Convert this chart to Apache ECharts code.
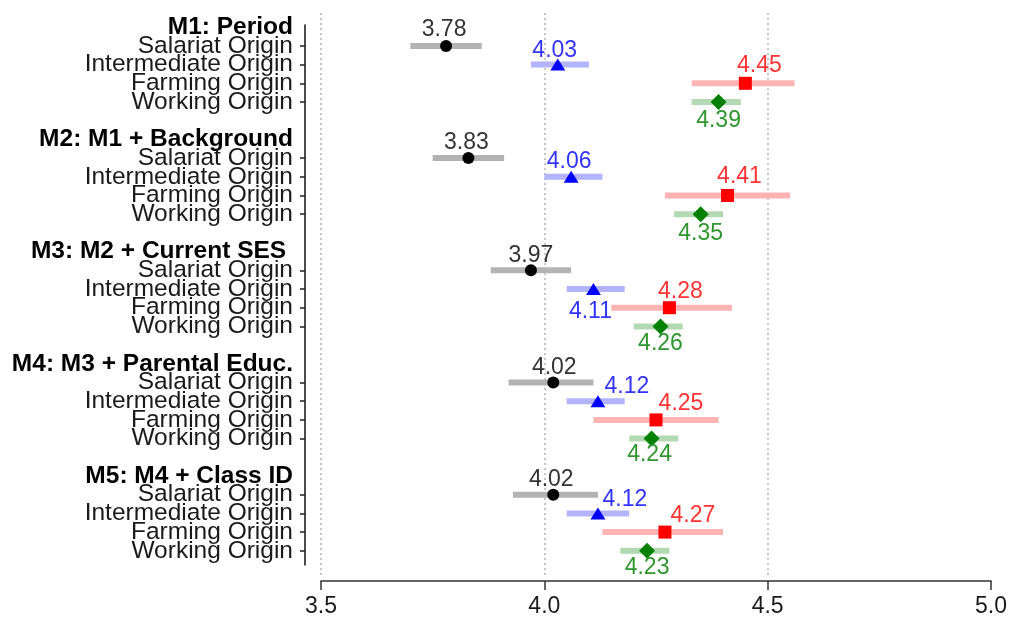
<!DOCTYPE html>
<html>
<head>
<meta charset="utf-8">
<script src="https://cdn.jsdelivr.net/npm/echarts@6/dist/echarts.min.js"></script>
<style>
  html, body { margin: 0; padding: 0; background: #fff; }
  #chart { width: 1010px; height: 619px; }
</style>
</head>
<body>
<div id="chart"></div>
<script>
// Model blocks (headers) and origin classes (rows inside each block)
const models = ['M1: Period', 'M2: M1 + Background', 'M3: M2 + Current SES ', 'M4: M3 + Parental Educ.', 'M5: M4 + Class ID'];
const origins = ['Salariat Origin', 'Intermediate Origin', 'Farming Origin', 'Working Origin'];

// Point estimates per model (M1..M5)
const salariatEst     = [3.78, 3.83, 3.97, 4.02, 4.02];
const intermediateEst = [4.03, 4.06, 4.11, 4.12, 4.12];
const farmingEst      = [4.45, 4.41, 4.28, 4.25, 4.27];
const workingEst      = [4.39, 4.35, 4.26, 4.24, 4.23];

// Interval bounds per model (M1..M5)
const salariatLow      = [3.70, 3.75, 3.88, 3.92, 3.93];
const salariatHigh     = [3.86, 3.91, 4.06, 4.11, 4.12];
const intermediateLow  = [3.97, 4.00, 4.05, 4.05, 4.05];
const intermediateHigh = [4.10, 4.13, 4.18, 4.18, 4.19];
const farmingLow       = [4.33, 4.27, 4.15, 4.11, 4.13];
const farmingHigh      = [4.56, 4.55, 4.42, 4.39, 4.40];
const workingLow       = [4.33, 4.29, 4.20, 4.19, 4.17];
const workingHigh      = [4.44, 4.40, 4.31, 4.30, 4.28];

// x-axis ticks
const xTicks = [3.5, 4.0, 4.5, 5.0];

// ---- layout / styling (kept apart from the data) ----
const FONT = '"Liberation Sans", Arial, sans-serif';
const ROWS_PER_BLOCK = 6;           // header + 4 origins + spacer
const headerRow = g => g * ROWS_PER_BLOCK;
const originRow = (g, k) => g * ROWS_PER_BLOCK + 1 + k;

const originStyle = [
  { est: salariatEst,     low: salariatLow,     high: salariatHigh,     symbol: 'circle',   size: 12,       mark: '#000000', bar: '#b3b3b3', text: '#333333' },
  { est: intermediateEst, low: intermediateLow, high: intermediateHigh, symbol: 'triangle', size: [15, 12], mark: '#0000ff', bar: '#b3b3ff', text: '#3333ff' },
  { est: farmingEst,      low: farmingLow,      high: farmingHigh,      symbol: 'rect',     size: 13,       mark: '#ff0000', bar: '#ffb3b3', text: '#ff3333' },
  { est: workingEst,      low: workingLow,      high: workingHigh,      symbol: 'diamond',  size: 16,       mark: '#008000', bar: '#b3d9b3', text: '#2f962f' }
];

// value-label nudges [dx, dy] per model (rows) and origin (columns)
const labelNudge = [
  [[-2, -16], [-3, -14], [14, -18], [0, 19]],
  [[-2, -15], [-2, -15], [12, -19], [0, 19]],
  [[0, -15],  [-3, 23],  [11, -16], [0, 17]],
  [[1, -15],  [29, -15], [25, -16], [-2, 16]],
  [[-2, -15], [27, -14], [28, -16], [0, 17]]
];

// row labels
const rowText = {};
const headerRows = [];
const originRows = [];
models.forEach((m, g) => {
  rowText[headerRow(g)] = m;
  headerRows.push(headerRow(g));
  origins.forEach((o, k) => {
    rowText[originRow(g, k)] = o;
    originRows.push(originRow(g, k));
  });
});
const labelRows = headerRows.concat(originRows).sort((a, b) => a - b);
// the labels overlap their neighbours, so even and odd rows go on two stacked axes
const evenRows = labelRows.filter(r => r % 2 === 0);
const oddRows = labelRows.filter(r => r % 2 === 1);

// row scale: first row centre 14.2px below grid top, 18.7px per row
const rowPx = 18.7;
const yMin = -14.2 / rowPx;
const yMax = yMin + 562 / rowPx;

const series = [];
originStyle.forEach((s, k) => {
  const bars = models.map((m, g) => [s.low[g], s.high[g], originRow(g, k)]);
  series.push({
    type: 'custom',
    name: origins[k] + ' interval',
    xAxisIndex: 0, yAxisIndex: 0,
    z: 2,
    silent: true,
    encode: { x: [0, 1], y: 2 },
    data: bars,
    renderItem: (params, api) => {
      const row = api.value(2);
      const a = api.coord([api.value(0), row]);
      const b = api.coord([api.value(1), row]);
      return {
        type: 'line',
        shape: { x1: a[0], y1: a[1], x2: b[0], y2: b[1] },
        style: { stroke: s.bar, lineWidth: 6, lineCap: 'butt' }
      };
    }
  });
  series.push({
    type: 'scatter',
    name: origins[k],
    xAxisIndex: 0, yAxisIndex: 0,
    z: 4,
    symbol: s.symbol,
    symbolSize: s.size,
    itemStyle: { color: s.mark, opacity: 1 },
    label: {
      show: true,
      position: 'inside',
      fontFamily: FONT,
      fontSize: 23,
      color: s.text,
      formatter: p => p.value[0].toFixed(2)
    },
    data: models.map((m, g) => ({
      value: [s.est[g], originRow(g, k)],
      label: { offset: labelNudge[g][k] }
    }))
  });
});

function rowAxis(rows, withTicks) {
  return {
    gridIndex: 0,
    type: 'value',
    position: 'left',
    inverse: true,
    min: yMin, max: yMax,
    offset: 16,
    axisLine: { show: false, onZero: false },
    axisTick: withTicks
      ? { show: true, length: 5, customValues: originRows, lineStyle: { color: '#222', width: 1.5 } }
      : { show: false },
    axisLabel: {
      show: true,
      margin: 12,
      customValues: rows,
      showMinLabel: true, showMaxLabel: true,
      fontFamily: FONT, fontSize: 24.5, color: '#1a1a1a',
      formatter: v => {
        const r = Math.round(v);
        const t = rowText[r] || '';
        return headerRows.indexOf(r) >= 0 ? '{h|' + t + '}' : t;
      },
      rich: { h: { fontFamily: FONT, fontSize: 24.5, fontWeight: 'bold', color: '#000' } }
    },
    splitLine: { show: false }
  };
}

const chart = echarts.init(document.getElementById('chart'), null, { renderer: 'canvas' });
chart.setOption({
  animation: false,
  backgroundColor: '#ffffff',
  grid: [
    { left: 321, right: 17, top: 13, bottom: 44 },
    { left: 305, right: 17, top: 25, bottom: 54 }
  ],
  xAxis: [
    {
      gridIndex: 0,
      type: 'value',
      min: 3.5, max: 5.0, interval: 0.5,
      offset: 6,
      axisLine: { show: true, onZero: false, lineStyle: { color: '#333', width: 1.5 } },
      axisTick: { show: true, length: 9, lineStyle: { color: '#333', width: 1.5 } },
      axisLabel: {
        fontFamily: FONT, fontSize: 23, color: '#1a1a1a', margin: 14,
        customValues: xTicks,
        showMinLabel: true, showMaxLabel: true,
        formatter: v => v.toFixed(1)
      },
      splitLine: {
        show: true, showMaxLine: false,
        lineStyle: { color: '#b5b5b5', type: [2, 3], width: 1.5 }
      }
    },
    { gridIndex: 1, type: 'value', show: false }
  ],
  yAxis: [
    rowAxis(evenRows, true),
    {
      gridIndex: 1,
      type: 'value',
      min: 0, max: 1,
      axisLine: { show: true, onZero: false, lineStyle: { color: '#111', width: 1.5 } },
      axisTick: { show: false },
      axisLabel: { show: false },
      splitLine: { show: false }
    },
    rowAxis(oddRows, false)
  ],
  series: series
});
</script>
</body>
</html>
